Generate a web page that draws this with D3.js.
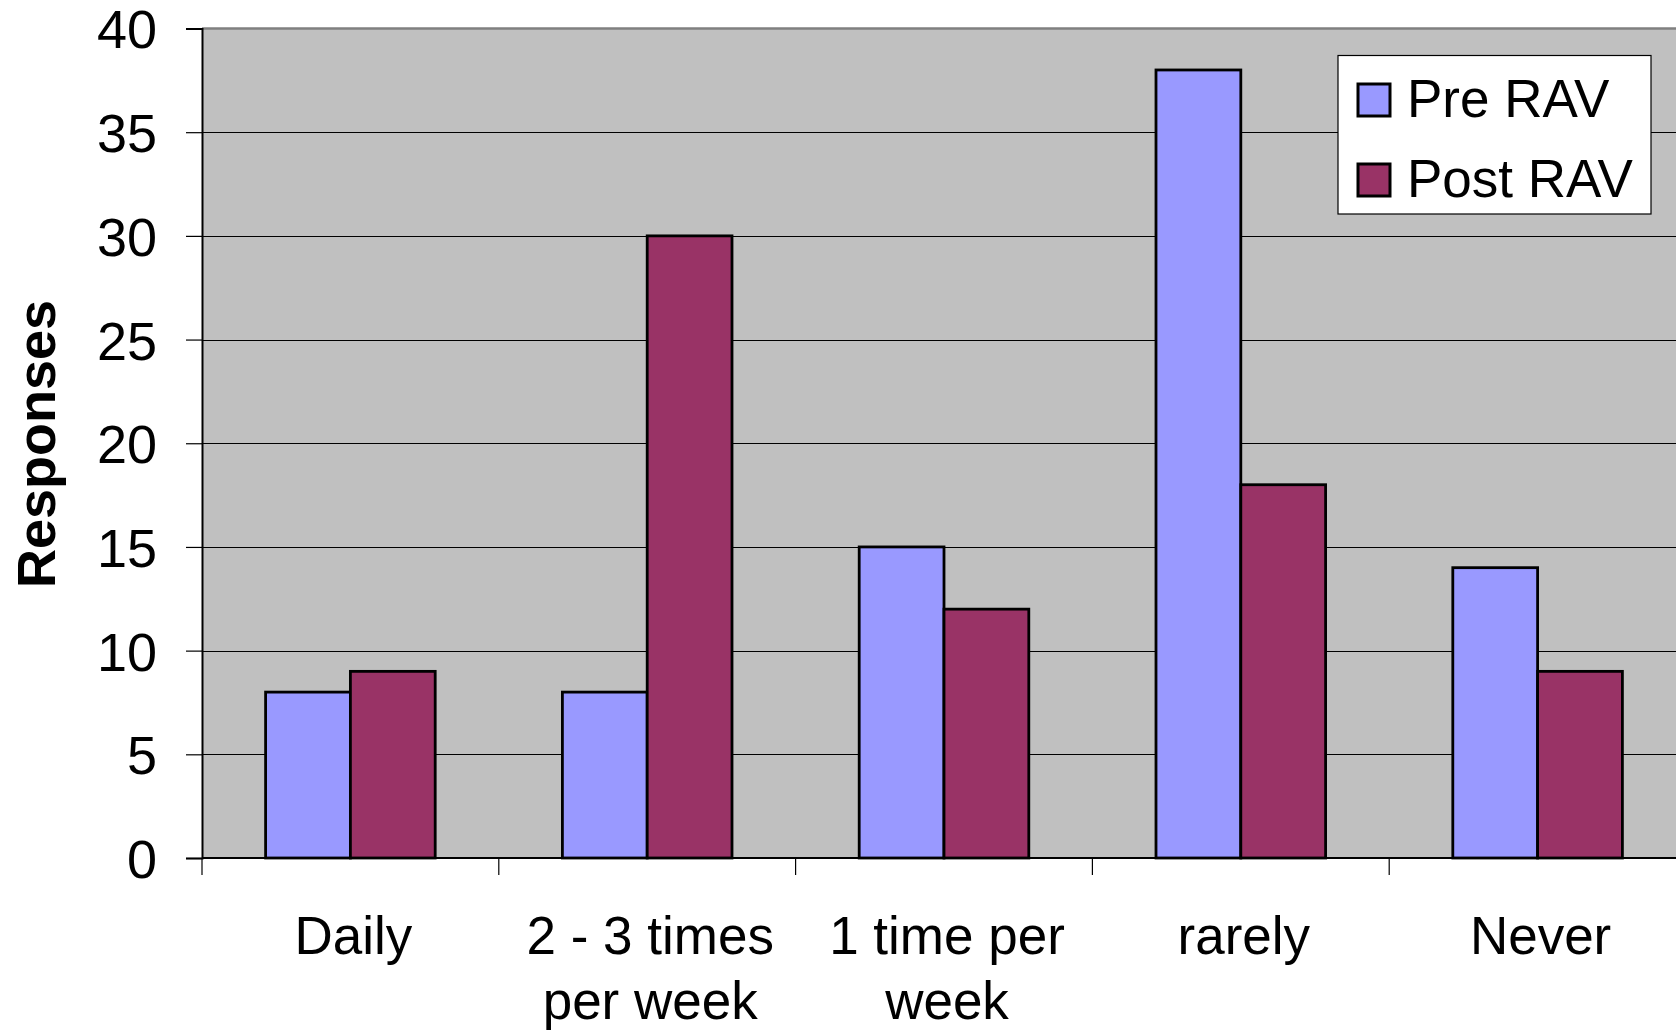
<!DOCTYPE html>
<html>
<head>
<meta charset="utf-8">
<script src="https://cdn.jsdelivr.net/npm/d3@7"></script>
<style>
  html, body { margin: 0; padding: 0; background: #fff; }
  svg { display: block; }
  text { font-family: "Liberation Sans", Arial, sans-serif; fill: #000; }
</style>
</head>
<body>
<svg id="chart" width="1676" height="1032"></svg>
<script>
// ---- data ----
const categories = ["Daily", "2 - 3 times per week", "1 time per week", "rarely", "Never"];
const categoryLines = [["Daily"], ["2 - 3 times", "per week"], ["1 time per", "week"], ["rarely"], ["Never"]];
const seriesNames = ["Pre RAV", "Post RAV"];
const preRAV = [8, 8, 15, 38, 14];
const postRAV = [9, 30, 12, 18, 9];
const yTicks = [0, 5, 10, 15, 20, 25, 30, 35, 40];
const yTitle = "Responses";
const seriesColors = ["#9999FF", "#993366"];

// ---- layout ----
const svg = d3.select("#chart");
const plotLeft = 202, plotTop = 28.5, plotBottom = 858;
const step = 296.8;
const plotRight = plotLeft + step * categories.length;

const x = d3.scaleBand().domain(categories).range([plotLeft, plotRight]).paddingInner(0).paddingOuter(0);
const x1 = d3.scaleBand().domain(seriesNames).range([0, x.bandwidth()]).paddingInner(0).paddingOuter(0.75);
const y = d3.scaleLinear().domain([0, 40]).range([plotBottom, plotTop]);

// plot area
svg.append("rect")
  .attr("x", plotLeft).attr("y", plotTop)
  .attr("width", plotRight - plotLeft).attr("height", plotBottom - plotTop)
  .attr("fill", "#C0C0C0");

// gridlines
const grid = svg.append("g").attr("transform", `translate(${plotLeft},0)`)
  .call(d3.axisLeft(y).tickValues(yTicks.filter(d => d > 0 && d < 40)).tickSize(-(plotRight - plotLeft)).tickFormat(""));
grid.select(".domain").remove();
grid.selectAll("line").attr("stroke", "#000").attr("stroke-width", 1).attr("shape-rendering", "crispEdges");

// top border
svg.append("line").attr("x1", plotLeft).attr("x2", plotRight).attr("y1", plotTop).attr("y2", plotTop)
  .attr("stroke", "#808080").attr("stroke-width", 2.5);

// bars
const rows = categories.map((c, i) => ({ cat: c, vals: [preRAV[i], postRAV[i]] }));
const groups = svg.append("g").selectAll("g").data(rows).join("g")
  .attr("transform", d => `translate(${x(d.cat)},0)`);
groups.selectAll("rect").data(d => d.vals.map((v, j) => ({ s: seriesNames[j], v, j })))
  .join("rect")
  .attr("x", d => x1(d.s))
  .attr("y", d => y(d.v))
  .attr("width", x1.bandwidth())
  .attr("height", d => y(0) - y(d.v))
  .attr("fill", d => seriesColors[d.j])
  .attr("stroke", "#000").attr("stroke-width", 2.8);

// y axis
const yAxis = svg.append("g").attr("transform", `translate(${plotLeft},0)`)
  .call(d3.axisLeft(y).tickValues(yTicks).tickSize(16).tickPadding(29));
yAxis.select(".domain").attr("stroke", "#000").attr("stroke-width", 2);
yAxis.selectAll("line").attr("stroke", "#000").attr("stroke-width", 1.2);
yAxis.selectAll("text").attr("font-size", 54).attr("font-family", "Liberation Sans, Arial, sans-serif")
  .attr("fill", "#000").attr("dy", "0.36em");

// x axis
svg.append("line").attr("x1", plotLeft).attr("x2", plotRight).attr("y1", plotBottom).attr("y2", plotBottom)
  .attr("stroke", "#000").attr("stroke-width", 2);
const boundaries = categories.map(c => x(c)).concat([plotRight]);
svg.append("g").selectAll("line").data(boundaries).join("line")
  .attr("x1", d => d).attr("x2", d => d).attr("y1", plotBottom).attr("y2", plotBottom + 17)
  .attr("stroke", "#000").attr("stroke-width", 1.2);

const labels = svg.append("g").selectAll("text").data(categories).join("text")
  .attr("text-anchor", "middle")
  .attr("font-size", 53)
  .attr("x", d => x(d) + x.bandwidth() / 2 + 3)
  .attr("y", 954);
labels.selectAll("tspan").data((d, i) => categoryLines[i]).join("tspan")
  .attr("x", function () { return d3.select(this.parentNode).attr("x"); })
  .attr("dy", (d, i) => i === 0 ? 0 : 65)
  .text(d => d);

// y title
svg.append("text")
  .attr("transform", `translate(55,444) rotate(-90)`)
  .attr("text-anchor", "middle")
  .attr("font-size", 54)
  .attr("font-weight", "bold")
  .text(yTitle);

// legend
const lg = svg.append("g");
lg.append("rect").attr("x", 1338).attr("y", 55.5).attr("width", 313).attr("height", 158.5)
  .attr("fill", "#fff").attr("stroke", "#000").attr("stroke-width", 1.2);
const items = lg.selectAll("g").data(seriesNames).join("g")
  .attr("transform", (d, i) => `translate(1358,${84 + i * 80})`);
items.append("rect").attr("width", 32).attr("height", 32)
  .attr("fill", (d, i) => seriesColors[i]).attr("stroke", "#000").attr("stroke-width", 3);
items.append("text").attr("x", 49).attr("y", 33).attr("font-size", 53).text(d => d);
</script>
</body>
</html>
